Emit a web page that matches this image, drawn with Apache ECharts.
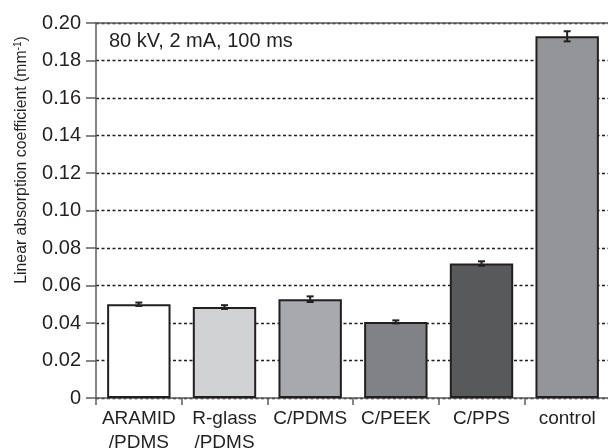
<!DOCTYPE html>
<html><head><meta charset="utf-8">
<script src="https://cdn.jsdelivr.net/npm/echarts@6/dist/echarts.min.js"></script>
<style>html,body{margin:0;padding:0;background:#fff}#c{width:608px;height:448px}</style>
</head><body><div id="c"></div>
<script>
var categories = ['ARAMID\n/PDMS', 'R-glass\n/PDMS', 'C/PDMS', 'C/PEEK', 'C/PPS', 'control'];
var values = [0.0500, 0.0485, 0.0527, 0.0406, 0.0717, 0.1929];
var errors = [0.0009, 0.0010, 0.0015, 0.0008, 0.0012, 0.0027];
var barColors = ['#ffffff', '#d1d2d4', '#a7a9ac', '#808285', '#58595b', '#939598'];
var yMin = 0, yMax = 0.20, yStep = 0.02;
var annotation = '80 kV, 2 mA, 100 ms';
var yTitle = 'Linear absorption coefficient (mm{sup|-1})';

var font = 'Liberation Sans, Arial, sans-serif';
var ink = '#231f20';
var axisGray = '#5d5d5d';
var chart = echarts.init(document.getElementById('c'), null, {renderer: 'canvas'});
var option = {
  animation: false,
  backgroundColor: '#fff',
  grid: {left: 96, right: -2, top: 23, bottom: 50, containLabel: false, outerBoundsMode: 'none'},
  xAxis: [{
    type: 'category', data: categories, boundaryGap: true,
    axisLine: {show: true, lineStyle: {color: axisGray, width: 1.5}},
    axisTick: {show: true, inside: false, length: 7, alignWithLabel: false, lineStyle: {color: axisGray, width: 1.5}},
    axisLabel: {color: '#231f20', fontSize: 19, fontFamily: font, margin: 9, lineHeight: 24, interval: 0},
    splitLine: {show: false}
  }, {
    type: 'category', data: categories, position: 'top',
    axisLine: {show: true, lineStyle: {color: axisGray, width: 1.5}},
    axisTick: {show: false}, axisLabel: {show: false}, splitLine: {show: false}
  }],
  yAxis: {
    type: 'value', min: yMin, max: yMax, interval: yStep,
    axisLine: {show: true, lineStyle: {color: axisGray, width: 1.5}},
    axisTick: {show: true, inside: false, length: 10, lineStyle: {color: axisGray, width: 1.5}},
    axisLabel: {color: '#231f20', fontSize: 20, fontFamily: font, margin: 15,
      formatter: function (v) { return v === 0 ? '0' : v.toFixed(2); }},
    splitLine: {show: true, lineStyle: {color: ink, width: 1.3, type: [3, 2.5]}}
  },
  graphic: [
    {type: 'text', x: 109, y: 41, style: {text: annotation, fontSize: 20, fontFamily: font, fill: '#231f20', verticalAlign: 'middle', align: 'left'}},
    {type: 'text', x: 22, y: 160, rotation: Math.PI / 2,
      style: {text: yTitle, fontSize: 15.8, fontFamily: font, fill: '#231f20', align: 'center', verticalAlign: 'middle',
        rich: {sup: {fontSize: 10, fontFamily: font, fill: '#231f20', verticalAlign: 'top', padding: [0, 0, 8, 0]}}}}
  ],
  series: [{
    type: 'bar', xAxisIndex: 0,
    data: values.map(function (v, i) {
      return {value: v, itemStyle: {color: barColors[i], borderColor: ink, borderWidth: 2}};
    }),
    barWidth: '74%', z: 2
  }, {
    type: 'custom', xAxisIndex: 0, z: 5,
    data: values.map(function (v, i) { return [i, v, errors[i]]; }),
    renderItem: function (params, api) {
      var x = api.value(0), v = api.value(1), e = api.value(2);
      var hi = api.coord([x, v + e]), lo = api.coord([x, v - e]);
      var hw = 3.5;
      var st = {stroke: ink, lineWidth: 2};
      return {type: 'group', children: [
        {type: 'line', shape: {x1: hi[0], y1: hi[1], x2: lo[0], y2: lo[1]}, style: st},
        {type: 'line', shape: {x1: hi[0] - hw, y1: hi[1], x2: hi[0] + hw, y2: hi[1]}, style: st},
        {type: 'line', shape: {x1: lo[0] - hw, y1: lo[1], x2: lo[0] + hw, y2: lo[1]}, style: st}
      ]};
    }
  }]
};
chart.setOption(option);
</script></body></html>
